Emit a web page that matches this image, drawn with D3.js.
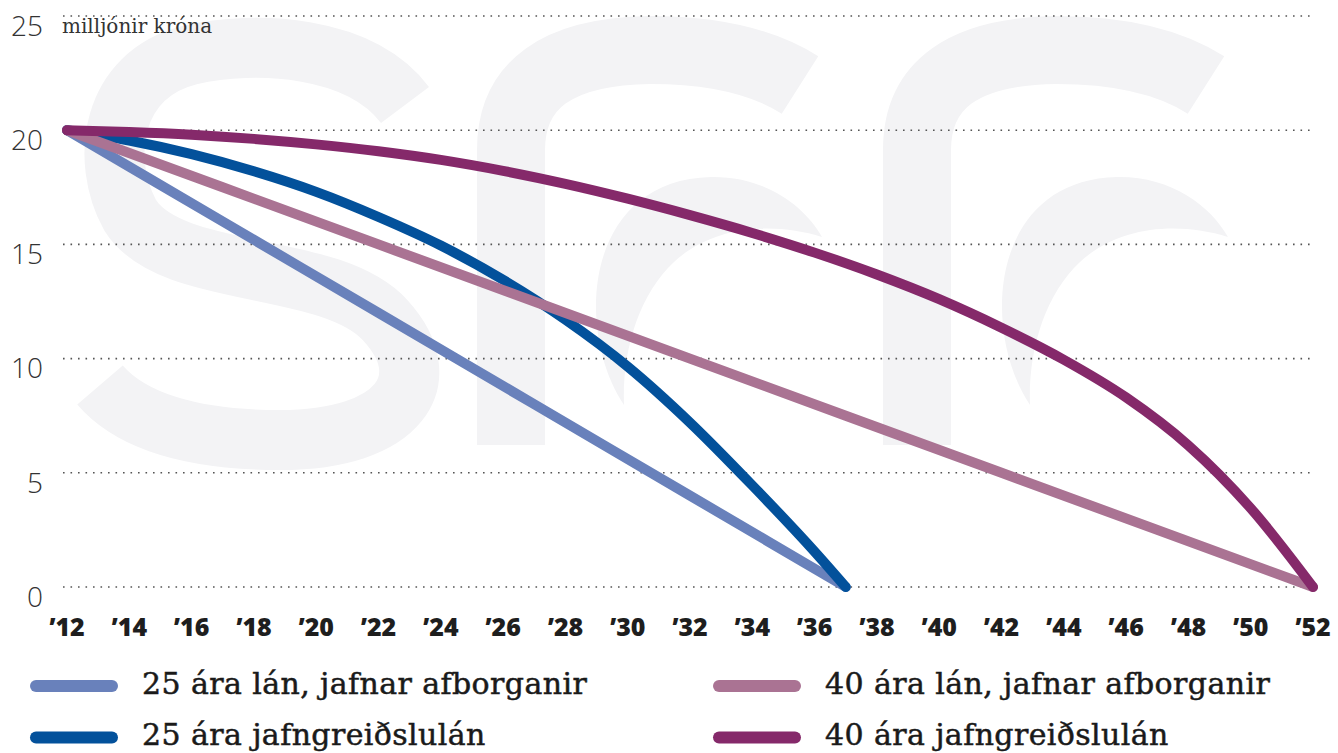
<!DOCTYPE html>
<html>
<head>
<meta charset="utf-8">
<script src="https://cdn.jsdelivr.net/npm/d3@7"></script>
<style>
  body { margin: 0; background: #fff; }
  svg { display: block; }
</style>
</head>
<body>
<div id="chart"></div>
<script>
/********************************************************/
// Data (milljónir króna)
const years25 = [2012, 2014, 2016, 2018, 2020, 2022, 2024, 2026, 2028, 2030, 2032, 2034, 2036, 2037];
const annuity25 = [20, 19.55, 18.95, 18.2, 17.3, 16.2, 14.95, 13.45, 11.7, 9.65, 7.2, 4.45, 1.55, 0];
const flatYears25 = [2012, 2017, 2022, 2027, 2032, 2037];
const equal25 = [20, 16, 12, 8, 4, 0];

const years40 = [2012, 2014, 2016, 2018, 2020, 2022, 2024, 2026, 2028, 2030, 2032,
  2034, 2036, 2038, 2040, 2042, 2044, 2046, 2048, 2050, 2052];
const annuity40 = [20, 19.92, 19.8, 19.62, 19.38, 19.08, 18.7, 18.22, 17.65, 17.0, 16.28,
  15.5, 14.64, 13.68, 12.6, 11.35, 9.95, 8.3, 6.2, 3.45, 0];
const flatYears40 = [2012, 2022, 2032, 2042, 2052];
const equal40 = [20, 15, 10, 5, 0];

const xTickYears = d3.range(2012, 2053, 2);
const yTickValues = [0, 5, 10, 15, 20, 25];
const unitLabel = "milljónir króna";

const seriesNames = [
  "25 ára lán, jafnar afborganir",
  "25 ára jafngreiðslulán",
  "40 ára lán, jafnar afborganir",
  "40 ára jafngreiðslulán",
];
/********************************************************/
const svgWidth = 1338;
const svgHeight = 753;
const colors = ["#6981bb", "#03519b", "#aa7393", "#85296a"];

const svg = d3.select("#chart").append("svg")
  .attr("width", svgWidth).attr("height", svgHeight);

svg.append("rect").attr("width", svgWidth).attr("height", svgHeight).attr("fill", "#fff");

// faint "sfr" watermark behind the chart
const markColor = "#f3f3f5";
const mark = svg.append("g").attr("fill", "none").attr("stroke", markColor);
mark.append("path")
  .attr("d", "M405,105 C360,45 255,40 190,55 C110,75 100,160 130,215 C170,280 330,260 385,320 C440,380 400,440 280,440 C190,440 130,420 100,385")
  .attr("stroke-width", 60);
[0, 406].forEach((dx) => {
  mark.append("path")
    .attr("d", `M${511 + dx},445 L${511 + dx},150 Q${511 + dx},52 ${650 + dx},50 Q${745 + dx},50 ${800 + dx},85`)
    .attr("stroke-width", 68);
  mark.append("path")
    .attr("d", `M${624 + dx},405 C${574 + dx},330 ${584 + dx},180 ${711 + dx},177 C${764 + dx},176 ${804 + dx},205 ${822 + dx},237 C${774 + dx},222 ${714 + dx},225 ${674 + dx},262 C${639 + dx},295 ${622 + dx},350 ${624 + dx},405 Z`)
    .attr("stroke", "none").attr("fill", markColor);
});
/********************************************************/
const x = d3.scaleLinear().domain([2012, 2052]).range([67, 1313]);
const y = d3.scaleLinear().domain([0, 25]).range([587, 16]);

// dotted gridlines
svg.append("g")
  .selectAll("line")
  .data(yTickValues)
  .enter()
  .append("line")
  .attr("x1", x(2012) - 4)
  .attr("x2", x(2052))
  .attr("y1", (d) => y(d))
  .attr("y2", (d) => y(d))
  .attr("stroke", "#555")
  .attr("stroke-width", 1.6)
  .attr("stroke-dasharray", "1.6,5.9");

// y labels, sitting just under their gridline
svg.append("g")
  .selectAll("text")
  .data(yTickValues)
  .enter()
  .append("text")
  .text((d) => d)
  .attr("x", 43)
  .attr("y", (d) => y(d) + 10)
  .attr("dy", "0.35em")
  .attr("text-anchor", "end")
  .attr("font-family", "'Open Sans', sans-serif")
  .attr("font-weight", 300)
  .attr("font-size", "28px")
  .attr("fill", "#333");

svg.append("text")
  .text(unitLabel)
  .attr("x", 62)
  .attr("y", 33)
  .attr("font-family", "'DejaVu Serif', serif")
  .attr("font-size", "20px")
  .attr("fill", "#333");

// x labels
svg.append("g")
  .selectAll("text")
  .data(xTickYears)
  .enter()
  .append("text")
  .text((d) => "’" + String(d).slice(2))
  .attr("x", (d) => x(d))
  .attr("y", 636)
  .attr("text-anchor", "middle")
  .attr("font-family", "'Open Sans', sans-serif")
  .attr("font-weight", 800)
  .attr("font-size", "25px")
  .attr("fill", "#1e1e1e");
/********************************************************/
const series = [
  { xs: flatYears25, ys: equal25 },
  { xs: years25, ys: annuity25 },
  { xs: flatYears40, ys: equal40 },
  { xs: years40, ys: annuity40 },
];

const line = d3.line()
  .x((d) => x(d[0]))
  .y((d) => y(d[1]))
  .curve(d3.curveMonotoneX);

svg.append("g")
  .selectAll("path")
  .data(series)
  .enter()
  .append("path")
  .attr("d", (s) => line(s.xs.map((v, i) => [v, s.ys[i]])))
  .attr("fill", "none")
  .attr("stroke", (s, i) => colors[i])
  .attr("stroke-width", 10)
  .attr("stroke-linecap", "round")
  .attr("stroke-linejoin", "round");
/********************************************************/
// legend, two columns
const legendPos = [
  { sx: 36, ty: 686 },
  { sx: 36, ty: 737.5 },
  { sx: 719, ty: 686 },
  { sx: 719, ty: 737.5 },
];

const legend = svg.append("g")
  .selectAll("g")
  .data(seriesNames)
  .enter()
  .append("g");

legend.append("line")
  .attr("x1", (d, i) => legendPos[i].sx)
  .attr("x2", (d, i) => legendPos[i].sx + 76)
  .attr("y1", (d, i) => legendPos[i].ty)
  .attr("y2", (d, i) => legendPos[i].ty)
  .attr("stroke", (d, i) => colors[i])
  .attr("stroke-width", 12)
  .attr("stroke-linecap", "round");

legend.append("text")
  .text((d) => d)
  .attr("x", (d, i) => legendPos[i].sx + 106)
  .attr("y", (d, i) => legendPos[i].ty + 7.5)
  .attr("font-family", "'DejaVu Serif', serif")
  .attr("font-size", "30px")
  .attr("letter-spacing", "0.4px")
  .attr("fill", "#1a1a1a")
  .attr("stroke", "#1a1a1a")
  .attr("stroke-width", 0.5);
</script>
</body>
</html>
